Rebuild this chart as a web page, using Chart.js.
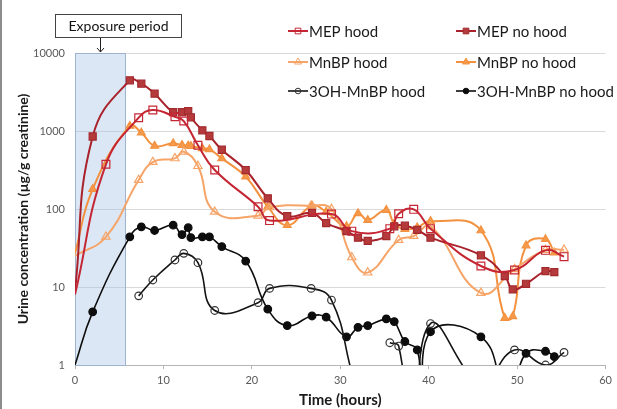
<!DOCTYPE html>
<html>
<head>
<meta charset="utf-8">
<title>Urine concentration after exposure</title>
<script src="https://cdn.jsdelivr.net/npm/chart.js@4.4.1/dist/chart.umd.min.js"></script>
<style>
  html, body { margin: 0; padding: 0; background: #fff; }
  #wrap { width: 617px; height: 409px; }
</style>
</head>
<body>
<div id="wrap"><canvas id="chart" width="617" height="409"></canvas></div>
<script>
// Sampling times (hours) for each volunteer
const hoodTimes = [0, 3.5, 7.2, 8.8, 11.3, 12.3, 13.9, 15.8, 20.7, 22.0, 26.7, 29.0, 31.3, 33.1, 35.6, 36.6, 38.3, 40.2, 45.9, 49.7, 53.2, 55.3];
const noHoodTimes = [0, 2.0, 6.2, 7.5, 9.0, 11.1, 12.1, 12.8, 13.1, 14.4, 15.2, 16.6, 19.3, 21.8, 24.0, 26.8, 28.4, 30.7, 32.0, 33.1, 35.2, 36.1, 37.3, 38.7, 39.4, 40.2, 45.9, 48.6, 49.5, 51.0, 53.2, 54.2];

// Urine concentrations (ug/g creatinine)
const mepHood = [8, 374, 1480, 1860, 1520, 1340, 656, 316, 107, 71, null, 86, 52, null, 56, 87, 99, 56, 18.6, 16.5, 29.5, 24.5];
const mepNoHood = [9, 850, 4470, 4040, 3010, 1740, 1740, 1800, 1500, 1020, 863, 575, 316, 137, 81, 89, 66, 52, 43, 39, 45, 60, 61, 54, null, 43, 25.5, 13.8, 9.3, 11, 16, 15.5];
const mnbpHood = [25, 44, 235, 400, 446, 543, 355, 92, 82, 105, 110, 100, 24, 15.3, null, 40, 45, 60, 8.4, 16.9, 29.8, 30];
const mnbpNoHood = [27, 180, 1160, 950, 644, 695, 660, 650, 640, 600, 580, 446, 260, 107, 62, 110, 92, 60, 88, 72, 97, 65, 55, 58, null, 70, 53, 4.0, 4.2, 34, 41, 27.5];
const ohHood = [null, null, 7.7, 12.3, 22.2, 27, 20.5, 5.0, 6.3, 9.6, 9.6, 6.8, 0.8, null, 1.93, 1.75, 0.1, 3.4, 0.6, 1.56, 1.0, 1.45];
const ohNoHood = [1, 4.8, 44, 59, 53, 62, 47, 57.6, 43, 44, 44, 33, 21.5, 5.2, 3.2, 4.25, 4.1, 2.3, 3.04, 3.2, 3.9, 3.6, 2.0, 1.56, 0.3, 2.67, 2.3, 0.5, 0.5, 1.41, 1.5, 1.28];

const yTickValues = [1, 10, 100, 1000, 10000];
const xTickValues = [0, 10, 20, 30, 40, 50, 60];
const exposurePeriod = [0, 5.7];

const FONT = 'Lato, "Open Sans", sans-serif';

function toPoints(times, values) {
  return times.map((t, i) => ({ x: t, y: values[i] }));
}

// no marker on the first (time zero) sample
function markerSize(r) {
  return ctx => (ctx.raw && ctx.raw.x === 0 ? 0 : r);
}

function series(label, times, values, style) {
  return Object.assign({
    label,
    data: toPoints(times, values),
    borderWidth: 2,
    pointBorderWidth: 1.2,
    tension: 0.45,
    spanGaps: true
  }, style);
}

const datasets = [
  series('MEP hood', hoodTimes, mepHood, {
    borderColor: '#c52633', pointStyle: 'rect', pointRadius: markerSize(5.5),
    pointBackgroundColor: 'rgba(255,255,255,0)', pointBorderColor: '#c52633'
  }),
  series('MEP no hood', noHoodTimes, mepNoHood, {
    borderColor: '#a8212b', pointStyle: 'rect', pointRadius: markerSize(5),
    pointBackgroundColor: '#b53a3c', pointBorderColor: '#a3292d'
  }),
  series('MnBP hood', hoodTimes, mnbpHood, {
    borderColor: '#f6a467', pointStyle: 'triangle', pointRadius: markerSize(4.8),
    pointBackgroundColor: 'rgba(255,255,255,0)', pointBorderColor: '#f6a467'
  }),
  series('MnBP no hood', noHoodTimes, mnbpNoHood, {
    borderColor: '#f3913f', pointStyle: 'triangle', pointRadius: markerSize(4.5),
    pointBackgroundColor: '#f5994a', pointBorderColor: '#f3913f'
  }),
  series('3OH-MnBP hood', hoodTimes, ohHood, {
    borderColor: '#141414', borderWidth: 1.6, pointStyle: 'circle', pointRadius: markerSize(3.8),
    pointBackgroundColor: 'rgba(255,255,255,0)', pointBorderColor: '#333', spanGaps: false
  }),
  series('3OH-MnBP no hood', noHoodTimes, ohNoHood, {
    borderColor: '#0d0d0d', borderWidth: 1.6, pointStyle: 'circle', pointRadius: markerSize(3.8),
    pointBackgroundColor: '#0d0d0d', pointBorderColor: '#0d0d0d'
  })
];

// shaded exposure window behind the lines, label box + arrow above it
const exposurePlugin = {
  id: 'exposure',
  beforeDatasetsDraw(chart) {
    const { ctx, scales: { x, y } } = chart;
    const x0 = x.getPixelForValue(exposurePeriod[0]);
    const x1 = x.getPixelForValue(exposurePeriod[1]);
    const yTop = y.getPixelForValue(10000);
    const yBot = y.getPixelForValue(1);
    ctx.save();
    ctx.fillStyle = 'rgba(166,194,227,0.4)';
    ctx.fillRect(x0, yTop, x1 - x0, yBot - yTop);
    ctx.strokeStyle = '#9fb3cf';
    ctx.lineWidth = 1;
    ctx.strokeRect(Math.round(x0) + 0.5, Math.round(yTop) + 0.5, Math.round(x1 - x0), Math.round(yBot - yTop));
    ctx.restore();
  },
  afterDraw(chart) {
    const { ctx, scales: { x, y } } = chart;
    const cx = Math.round((x.getPixelForValue(exposurePeriod[0]) + x.getPixelForValue(exposurePeriod[1])) / 2) + 0.5;
    const yTop = y.getPixelForValue(10000);
    ctx.save();
    ctx.fillStyle = '#fff';
    ctx.strokeStyle = '#444';
    ctx.lineWidth = 1;
    ctx.fillRect(55, 14, 126, 23);
    ctx.strokeRect(55.5, 14.5, 126, 23);
    ctx.fillStyle = '#111';
    ctx.font = '14px ' + FONT;
    ctx.textAlign = 'center';
    ctx.textBaseline = 'middle';
    ctx.fillText('Exposure period', 118.5, 26);
    // arrow
    ctx.strokeStyle = '#222';
    ctx.beginPath();
    ctx.moveTo(cx, 38);
    ctx.lineTo(cx, yTop - 1);
    ctx.moveTo(cx - 3.5, yTop - 5);
    ctx.lineTo(cx, yTop - 1);
    ctx.lineTo(cx + 3.5, yTop - 5);
    ctx.stroke();
    // thin dark edge at the left of the picture
    ctx.fillStyle = '#8c8c8c';
    ctx.fillRect(0, 0, 2, chart.height);
    ctx.restore();
  }
};

// two-column legend in the upper right corner
const legendCols = [288, 456];
const legendRows = [31, 62, 91];
const legendPlugin = {
  id: 'cornerLegend',
  afterDraw(chart) {
    const ctx = chart.ctx;
    const helpers = Chart.helpers;
    chart.data.datasets.forEach((ds, i) => {
      const lx = legendCols[i % 2];
      const ly = legendRows[Math.floor(i / 2)];
      ctx.save();
      ctx.strokeStyle = ds.borderColor;
      ctx.lineWidth = ds.borderWidth;
      ctx.beginPath();
      ctx.moveTo(lx, ly);
      ctx.lineTo(lx + 20, ly);
      ctx.stroke();
      ctx.fillStyle = ds.pointBackgroundColor;
      ctx.strokeStyle = ds.pointBorderColor;
      ctx.lineWidth = 1;
      const r = ds.pointStyle === 'circle' ? 2.8 : 4;
      helpers.drawPoint(ctx, { pointStyle: ds.pointStyle, radius: r, rotation: 0, borderWidth: 1 }, lx + 10, ly);
      ctx.fillStyle = '#1a1a1a';
      ctx.font = '15px ' + FONT;
      ctx.textAlign = 'left';
      ctx.textBaseline = 'middle';
      ctx.fillText(ds.label, lx + 21, ly + 1);
      ctx.restore();
    });
  }
};

new Chart(document.getElementById('chart'), {
  type: 'line',
  data: { datasets },
  options: {
    responsive: false,
    animation: false,
    devicePixelRatio: 1,
    layout: { padding: { top: 53, right: 9, bottom: 0, left: 0 } },
    elements: { line: { capBezierPoints: false } },
    plugins: {
      legend: { display: false },
      tooltip: { enabled: false }
    },
    scales: {
      x: {
        type: 'linear',
        min: 0,
        max: 60,
        afterBuildTicks: scale => { scale.ticks = xTickValues.map(v => ({ value: v })); },
        ticks: { font: { family: FONT, size: 11 }, color: '#595959', padding: 5, maxRotation: 0 },
        grid: { drawOnChartArea: false, drawTicks: true, tickLength: 4, color: '#b5b5b5' },
        border: { color: '#b5b5b5' },
        title: {
          display: true, text: 'Time (hours)', color: '#1a1a1a',
          font: { family: FONT, size: 15, weight: 'bold' }, padding: { top: 0, bottom: 0 }
        },
        afterFit: scale => { scale.height = 44; }
      },
      y: {
        type: 'logarithmic',
        min: 1,
        max: 10000,
        afterBuildTicks: scale => { scale.ticks = yTickValues.map(v => ({ value: v, major: true })); },
        ticks: { callback: v => String(v), font: { family: FONT, size: 11 }, color: '#595959', padding: 10 },
        grid: { color: '#d9d9d9', drawTicks: false },
        border: { display: false },
        title: {
          display: true, text: 'Urine concentration (µg/g creatinine)', color: '#1a1a1a',
          font: { family: FONT, size: 14, weight: 'bold' }, padding: { top: 15, bottom: 0 }
        },
        afterFit: scale => { scale.width = 75; }
      }
    }
  },
  plugins: [exposurePlugin, legendPlugin]
});
</script>
</body>
</html>
